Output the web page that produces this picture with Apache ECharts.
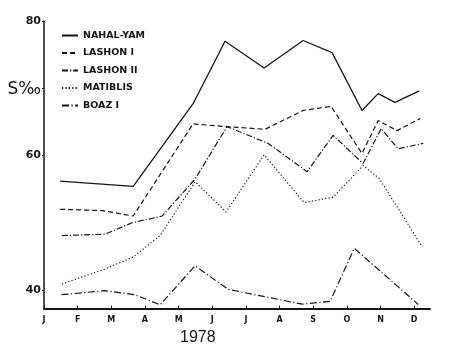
<!DOCTYPE html>
<html>
<head>
<meta charset="utf-8">
<script src="https://cdn.jsdelivr.net/npm/echarts@6/dist/echarts.min.js"></script>
<style>html,body{margin:0;padding:0;background:#fff;}#c{width:450px;height:357px;}</style>
</head>
<body>
<div id="c"></div>
<script>
// month tick labels (tick i = start of month i)
const monthLabels = ['J','F','M','A','M','J','J','A','S','O','N','D'];
const monthTicks = [0,1,2,3,4,5,6,7,8,9,10,11];
const yTickValues = [40, 60, 70, 80];
const yAxisTitle = 'S‰';
const yearLabel = '1978';

// sampling times (months from 1 Jan) and salinity values (S‰)
const nahalYamT = [0.48, 2.65, 4.43, 5.38, 6.54, 7.70, 8.56, 9.45, 9.93, 10.43, 11.15];
const nahalYamS = [56.2, 55.4, 67.7, 77.0, 73.0, 77.1, 75.3, 66.7, 69.2, 67.9, 69.6];

const lashon1T = [0.48, 1.75, 2.65, 4.43, 5.41, 6.57, 7.70, 8.53, 9.45, 9.93, 10.49, 11.18];
const lashon1S = [52.0, 51.8, 51.0, 64.7, 64.3, 63.9, 66.7, 67.3, 60.3, 65.2, 63.7, 65.5];

const lashon2T = [0.53, 1.81, 2.62, 3.51, 4.49, 5.44, 6.66, 7.82, 8.59, 9.48, 10.02, 10.52, 11.27];
const lashon2S = [48.1, 48.3, 50.0, 51.0, 56.5, 64.3, 61.8, 57.6, 63.0, 58.8, 64.0, 61.0, 61.8];

const matiblisT = [0.53, 1.75, 2.65, 3.45, 4.49, 5.41, 6.54, 7.73, 8.59, 9.48, 9.96, 11.24];
const matiblisS = [40.9, 43.0, 44.9, 48.1, 56.1, 51.6, 60.1, 53.0, 53.8, 58.5, 56.6, 46.4];

const boaz1T = [0.52, 1.80, 2.70, 3.45, 4.49, 5.47, 7.67, 8.50, 9.22, 11.12];
const boaz1S = [39.3, 39.9, 39.3, 37.8, 43.6, 40.1, 37.9, 38.3, 46.2, 37.85];

const seriesNames = ['NAHAL-YAM', 'LASHON I', 'LASHON II', 'MATIBLIS', 'BOAZ I'];

function zip(t, s) { return t.map((x, i) => [x, s[i]]); }

const ink = '#151515';
const styles = [
  { type: 'solid', width: 1.3 },
  { type: [5, 3], width: 1.2 },
  { type: [6, 2, 1.2, 2], width: 1.2 },
  { type: [1.2, 2.2], width: 1.2 },
  { type: [7, 2.5, 1.2, 2.5], width: 1.2 }
];
const dataSets = [zip(nahalYamT, nahalYamS), zip(lashon1T, lashon1S), zip(lashon2T, lashon2S), zip(matiblisT, matiblisS), zip(boaz1T, boaz1S)];

const chart = echarts.init(document.getElementById('c'), null, { renderer: 'canvas' });
chart.setOption({
  animation: false,
  backgroundColor: '#fff',
  title: {
    text: yearLabel,
    left: 180, top: 330,
    padding: 0,
    textStyle: { fontFamily: 'Liberation Sans', fontSize: 16, fontWeight: 'normal', color: ink }
  },
  legend: {
    orient: 'vertical',
    left: 56, top: 25,
    itemWidth: 16, itemHeight: 8, itemGap: 6.5,
    itemStyle: { color: 'transparent', borderColor: 'transparent', borderWidth: 0, opacity: 0 },
    textStyle: { fontFamily: 'DejaVu Sans', fontWeight: 'bold', fontSize: 9.5, color: ink, lineHeight: 11 },
    data: seriesNames
  },
  grid: { left: 44, right: 20, top: 21, bottom: 48.5, containLabel: false, outerBoundsMode: 'none' },
  xAxis: {
    type: 'value', min: 0, max: 11.47,
    splitLine: { show: false },
    axisLine: { lineStyle: { color: ink, width: 1.8 } },
    axisTick: { show: true, inside: true, length: 3, customValues: monthTicks, lineStyle: { color: ink, width: 1 } },
    axisLabel: {
      customValues: monthTicks,
      formatter: v => monthLabels[Math.round(v)] || '',
      margin: 7,
      fontFamily: 'DejaVu Sans', fontWeight: 'bold', fontSize: 8, color: ink
    }
  },
  yAxis: {
    type: 'value', min: 37.25, max: 80,
    splitLine: { show: false },
    axisLine: { show: true, lineStyle: { color: ink, width: 1.5 } },
    axisTick: { show: true, length: 2, customValues: yTickValues, lineStyle: { color: ink, width: 1 } },
    axisLabel: {
      customValues: yTickValues,
      margin: 3,
      formatter: v => (Math.round(v) === 70 ? '{s|' + yAxisTitle + '}' : '{n|' + Math.round(v) + '}'),
      rich: {
        n: { fontFamily: 'DejaVu Sans', fontWeight: 'bold', fontSize: 11, color: ink },
        s: { fontFamily: 'DejaVu Sans', fontWeight: 'normal', fontSize: 17, color: ink, padding: [3, 0, 0, 0] }
      }
    }
  },
  series: seriesNames.map((name, i) => ({
    name: name,
    type: 'line',
    symbol: 'none',
    smooth: false,
    color: ink,
    lineStyle: { color: ink, type: styles[i].type, width: styles[i].width },
    data: dataSets[i]
  }))
});
</script>
</body>
</html>
